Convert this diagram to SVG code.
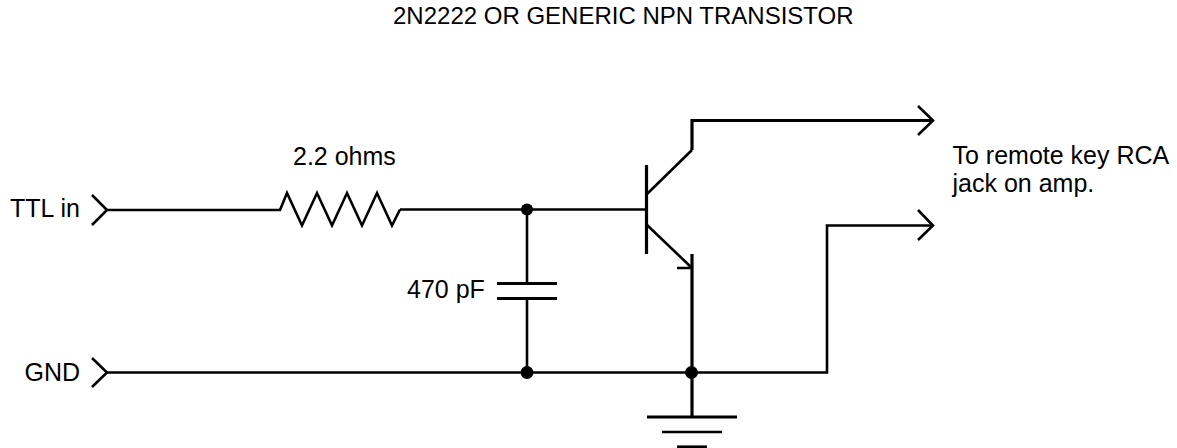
<svg xmlns="http://www.w3.org/2000/svg" width="1177" height="448" viewBox="0 0 1177 448">
<style>
.w{fill:none;stroke:#000;stroke-width:2.6;stroke-linejoin:miter}
.t{stroke-width:3.2}
text{font-family:"Liberation Sans",Arial,sans-serif;font-size:25px;fill:#000}
circle{fill:#000}
</style>
<rect width="1177" height="448" fill="#fff"/>
<g id="title"><text x="393" y="23.500" style="font-size:24px">2N2222 OR GENERIC NPN TRANSISTOR</text></g>
<g id="connectors">
<path class="w" d="M107 210H281"/>
<path class="w" d="M400 209.500H647"/>
<path class="w" d="M107 372.500H827V225.500H933"/>
<path class="w" d="M527 210V283M527 298V372"/>
<path class="w t" d="M692 150V120.500H933"/>
<path class="w t" d="M692 254V417"/>
</g>
<g id="ttl-in"><text x="10" y="217">TTL in</text><path class="w" d="M92 195L107 210L92 225"/></g>
<g id="gnd-in"><text x="24.500" y="381">GND</text><path class="w" d="M92 358L107 372.500L92 387"/></g>
<g id="resistor"><text x="293" y="165">2.2 ohms</text><path class="w" d="M280 210L287 193L302 225.500L317 193L332 225.500L347 193L362 225.500L377 193L392 225.500L400 209.500"/></g>
<g id="capacitor"><text x="407" y="298">470 pF</text><path class="w t" d="M497 283.500H557M497 298.500H557"/></g>
<g id="transistor"><path class="w t" d="M646.500 165V254"/><path class="w" stroke-width="3" d="M647 194L692 150M647 225L692 268M677 268H692"/></g>
<g id="out-top"><path class="w" d="M918 106L933 120.500L918 135"/></g>
<g id="out-bottom"><path class="w" d="M918 210L933 225.500L918 240"/></g>
<g id="out-label"><text x="952.500" y="164">To remote key RCA</text><text x="952.500" y="192">jack on amp.</text></g>
<g id="junction-1"><circle cx="527" cy="209.500" r="6"/></g>
<g id="junction-2"><circle cx="527" cy="372.500" r="6.500"/></g>
<g id="junction-3"><circle cx="691.500" cy="372.500" r="6.500"/></g>
<g id="ground"><path class="w t" d="M647 417H737"/><path class="w" d="M662 432H722"/><path class="w t" d="M677 447H707"/></g>
</svg>
